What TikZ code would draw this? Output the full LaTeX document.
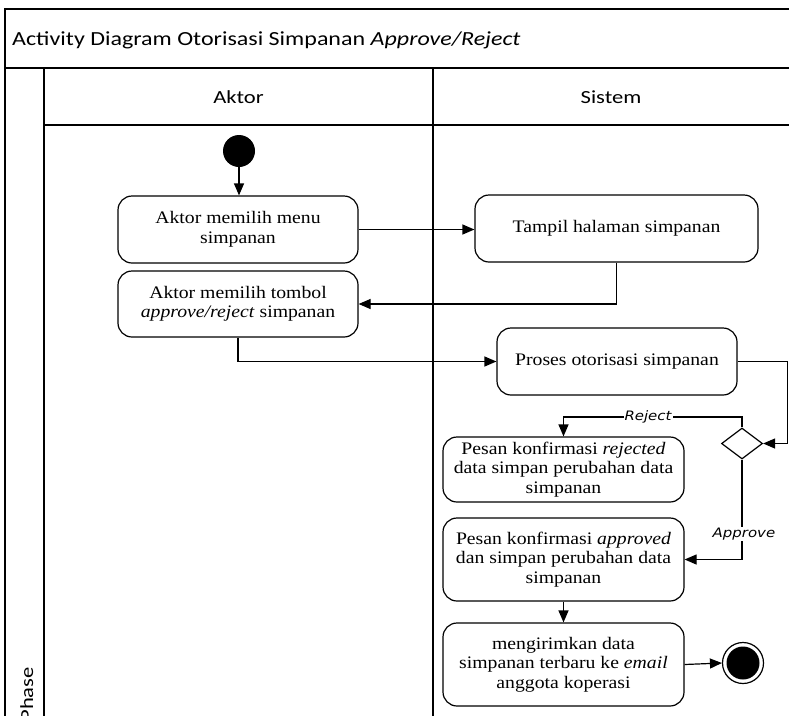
\documentclass[tikz,border=0pt]{standalone}
\usepackage{fontspec}
\usetikzlibrary{arrows.meta,shapes.geometric,calc}
\newfontfamily\titlefont[FakeStretch=1.2]{Carlito}
\newfontfamily\hdfont[FakeStretch=1.22]{Carlito}
\newfontfamily\actfont[FakeStretch=1.12]{Liberation Serif}
\newfontfamily\guardfont[FakeStretch=1.15]{DejaVu Sans}

\begin{document}
\begin{tikzpicture}[x=1pt,y=-1pt,
  frame/.style={line width=1.3pt},
  act/.style={draw, line width=1.2pt, rounded corners=14pt, fill=white,
    align=center, inner sep=2pt,
    font=\actfont\fontsize{17.6}{19.5}\selectfont},
  flow/.style={line width=1.2pt, -{Triangle[length=12pt,width=10pt]}},
  guard/.style={fill=white, inner sep=1pt,
    font=\guardfont\itshape\fontsize{13}{15}\selectfont},
  hd/.style={font=\hdfont\fontsize{18.5}{22}\selectfont, inner sep=0pt}
]
\useasboundingbox (0,0) rectangle (789,715);
\clip (0,0) rectangle (789,715);

% swimlane frame
\draw[frame] (5,725) -- (5,9) -- (800,9);
\draw[frame] (5,68) -- (800,68);
\draw[frame] (44,68) -- (44,725);
\draw[frame] (44,125) -- (800,125);
\draw[frame] (433,68) -- (433,725);

% titles
\node[inner sep=0pt, font=\titlefont\fontsize{20}{24}\selectfont, anchor=west] (title) at (12,40)
  {Activity Diagram Otorisasi Simpanan \textit{Approve/Reject}};
\node[hd] (laneA) at (238.5,97) {Aktor};
\node[hd] (laneS) at (611,97) {Sistem};
\node[hd, rotate=90, anchor=base east] (phase) at (33,667) {Phase};

% start and end
\node[circle, fill=black, minimum size=32pt, inner sep=0pt] (start) at (239,151) {};
\node[circle, draw, line width=1.2pt, minimum size=41pt, inner sep=0pt] (fin) at (743,663) {};
\fill (fin.center) circle (16.5pt);

% actions
\node[act, minimum width=240pt, minimum height=67pt] (a1) at (238,229.5)
  {Aktor memilih menu\\simpanan};
\node[act, minimum width=240pt, minimum height=66pt] (a2) at (238,304)
  {Aktor memilih tombol\\\textit{approve/reject} simpanan};
\node[act, minimum width=283pt, minimum height=67pt] (s1) at (616.5,228.5)
  {Tampil halaman simpanan};
\node[act, minimum width=240pt, minimum height=67pt] (s2) at (617,361.5)
  {Proses otorisasi simpanan};
\node[draw, diamond, line width=1.2pt, minimum width=41pt, minimum height=31pt,
  inner sep=0pt, aspect=1.3] (d) at (742,443.5) {};
\node[act, minimum width=241pt, minimum height=65pt] (r) at (563.5,469.5)
  {Pesan konfirmasi \textit{rejected}\\data simpan perubahan data\\simpanan};
\node[act, minimum width=241pt, minimum height=83pt] (p) at (563.5,559.5)
  {Pesan konfirmasi \textit{approved}\\dan simpan perubahan data\\simpanan};
\node[act, minimum width=241pt, minimum height=83pt] (m) at (563.5,664.5)
  {mengirimkan data\\simpanan terbaru ke \textit{email}\\anggota koperasi};

% flows
\draw[flow] (start) -- (start |- a1.north);
\draw[flow] (a1.east) -- (a1.east -| s1.west);
\draw[flow] (s1.south) |- (a2.east);
\draw[flow] (a2.south) |- (s2.west);
\draw[flow] (s2.east) -- ++(50,0) |- (d.east);
\coordinate (rj) at (742,417);
\draw[flow] (d.north) -- (rj) -| (r.north);
\node[guard] (lr) at (648,417) {Reject};
\draw[flow] (d.south) |- (p.east);
\node[guard] (la) at (744,534) {Approve};
\draw[flow] (p.south) -- (p.south |- m.north);
\draw[flow] (m.east) -- (fin.west);
\end{tikzpicture}
\end{document}
